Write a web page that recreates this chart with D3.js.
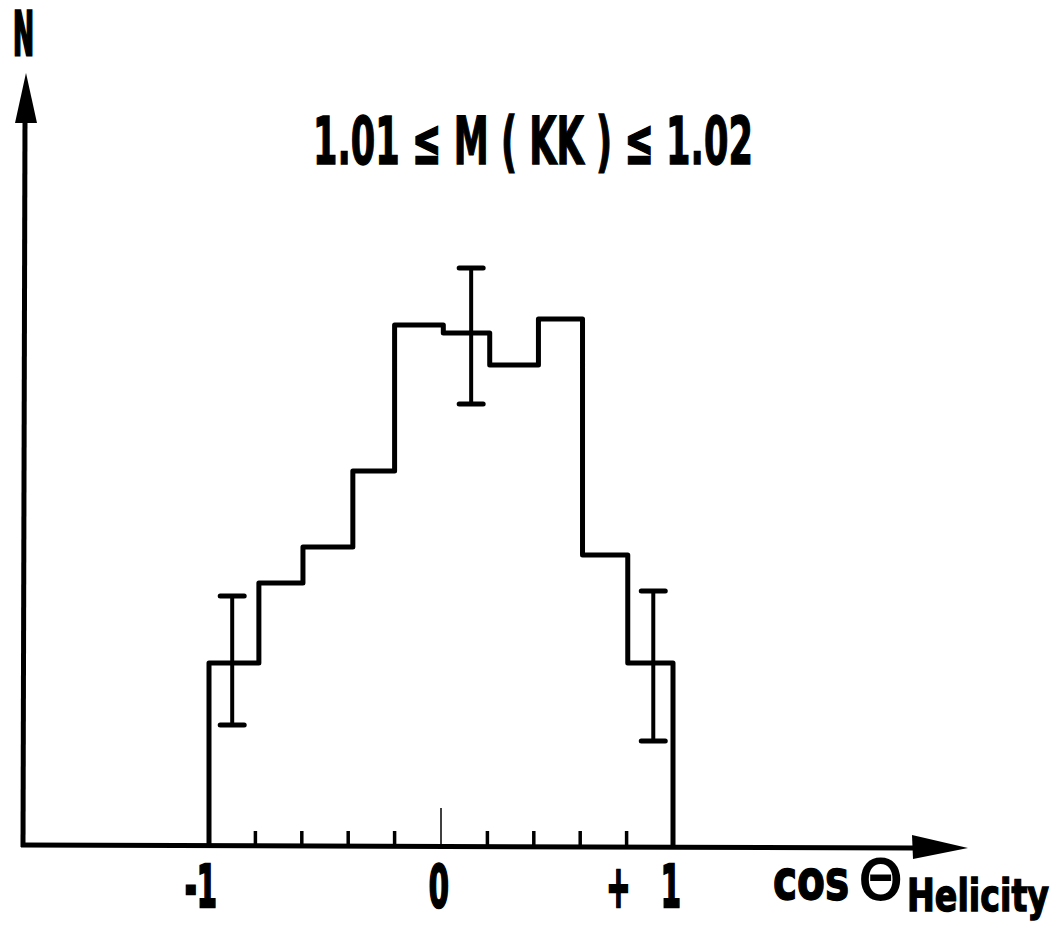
<!DOCTYPE html>
<html>
<head>
<meta charset="utf-8">
<script src="https://cdn.jsdelivr.net/npm/d3@7"></script>
<style>
  body { margin: 0; background: #fff; }
  svg text { font-family: "DejaVu Sans", sans-serif; font-weight: bold; fill: #000; stroke: #000; }
</style>
</head>
<body>
<svg id="chart"></svg>
<script>
var width = 1063;
var height = 934;

// histogram: bin edges (cos theta) and counts
var binEdges = [-1, -0.785, -0.595, -0.38, -0.2, 0.01, 0.21, 0.42, 0.61, 0.805, 1];
var counts = [36.6, 52.6, 59.8, 75.0, 104.2, 102.6, 96.2, 105.4, 58.2, 36.6];

// error bars on three bins
var errX = [-0.9, 0.13, 0.915];
var errLow = [24.2, 88.4, 21];
var errHigh = [50, 115.6, 51];

// labelled ticks
var tickValues = [-1, 0, 1];
var tickLabels = ["-1", "0", "+   1"];

var svg = d3.select("#chart")
  .attr("width", width)
  .attr("height", height);

var x = d3.scaleLinear()
  .domain([-1, 1])
  .range([209, 673]);

var y = d3.scaleLinear()
  .domain([0, 160])
  .range([846, 46]);

var x0 = 23;
var y0 = y(0);

// the original lettering is condensed: squeeze text horizontally
function squeezed(tx, ty, k) {
  return "translate(" + tx + "," + ty + ") scale(" + k + ",1)";
}

// axes with arrows
svg.append("line")
  .attr("x1", x0).attr("y1", y0 + 1)
  .attr("x2", x0 + 2).attr("y2", 118)
  .attr("stroke", "#000").attr("stroke-width", 5);

svg.append("path")
  .attr("d", "M26,73 L37,123 L15,123 Z")
  .attr("fill", "#000");

svg.append("line")
  .attr("x1", x0 - 2).attr("y1", y0 - 1)
  .attr("x2", 915).attr("y2", y0 + 2)
  .attr("stroke", "#000").attr("stroke-width", 5);

svg.append("path")
  .attr("d", "M968,848 L912,835 L913,859 Z")
  .attr("fill", "#000");

// minor ticks pointing up
var ticks = x.ticks(10).filter(function(d) { return Math.abs(d) < 0.999; });

svg.selectAll(".tick")
  .data(ticks)
  .enter().append("line")
  .attr("class", "tick")
  .attr("x1", function(d) { return x(d); })
  .attr("x2", function(d) { return x(d); })
  .attr("y1", y0)
  .attr("y2", function(d) { return Math.abs(d) < 1e-6 ? y0 - 38 : y0 - 15; })
  .attr("stroke", "#000")
  .attr("stroke-width", function(d) { return Math.abs(d) < 1e-6 ? 1.5 : 3.5; });

// histogram outline
var pts = [[binEdges[0], 0]];
counts.forEach(function(c, i) {
  pts.push([binEdges[i], c]);
  pts.push([binEdges[i + 1], c]);
});
pts.push([binEdges[binEdges.length - 1], 0]);

var line = d3.line()
  .x(function(d) { return x(d[0]); })
  .y(function(d) { return y(d[1]); });

svg.append("path")
  .attr("d", line(pts))
  .attr("fill", "none")
  .attr("stroke", "#000")
  .attr("stroke-width", 5)
  .attr("stroke-linejoin", "round");

// error bars
var capW = 12;
errX.forEach(function(v, i) {
  var g = svg.append("g").attr("stroke", "#000").attr("stroke-linecap", "round");
  g.append("line")
    .attr("x1", x(v)).attr("x2", x(v))
    .attr("y1", y(errLow[i])).attr("y2", y(errHigh[i]))
    .attr("stroke-width", 4);
  g.append("line")
    .attr("x1", x(v) - capW).attr("x2", x(v) + capW)
    .attr("y1", y(errLow[i])).attr("y2", y(errLow[i]))
    .attr("stroke-width", 5);
  g.append("line")
    .attr("x1", x(v) - capW).attr("x2", x(v) + capW)
    .attr("y1", y(errHigh[i])).attr("y2", y(errHigh[i]))
    .attr("stroke-width", 5);
});

// tick labels
svg.selectAll(".lbl")
  .data(tickValues)
  .enter().append("text")
  .attr("class", "lbl")
  .attr("transform", function(d) { return squeezed(x(d) + 8, 907, 0.5); })
  .attr("text-anchor", "end")
  .style("font-size", "58px")
  .style("stroke-width", 2.5)
  .style("white-space", "pre")
  .text(function(d, i) { return tickLabels[i]; });

// axis titles
svg.append("text")
  .attr("transform", squeezed(13, 55, 0.42))
  .style("font-size", "60px")
  .style("stroke-width", 3)
  .text("N");

// mass window title, squeezed to span 313..753
svg.append("text")
  .style("font-size", "65px")
  .style("stroke-width", 1.5)
  .text("1.01 ≤ M ( KK ) ≤ 1.02")
  .each(function() {
    var w = this.getComputedTextLength();
    d3.select(this).attr("transform", squeezed(313, 164, 440 / w));
  });

svg.append("text")
  .attr("transform", squeezed(773, 899, 0.74))
  .style("font-size", "55px")
  .style("stroke-width", 1.5)
  .text("cos");

svg.append("text")
  .attr("transform", squeezed(859, 899, 1))
  .style("font-size", "55px")
  .style("font-weight", "normal")
  .style("stroke-width", 2)
  .text("Θ");

svg.append("text")
  .attr("transform", squeezed(907, 911, 0.74))
  .style("font-size", "45px")
  .style("stroke-width", 1.5)
  .text("Helicity");
</script>
</body>
</html>
